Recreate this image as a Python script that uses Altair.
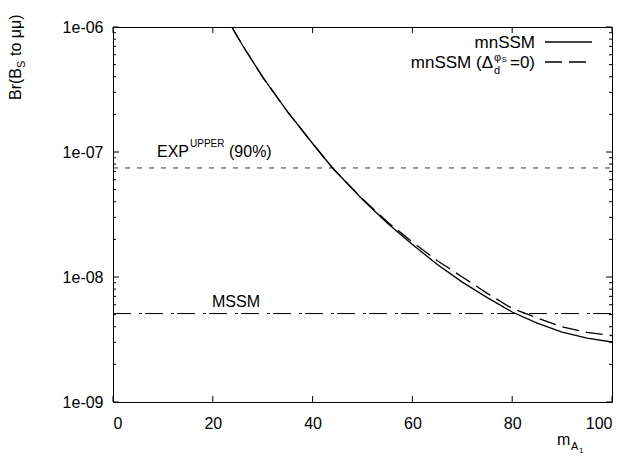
import altair as alt
import pandas as pd

# ---- data ----
m_solid = [23.8, 26, 30, 35, 40, 44, 50, 55, 60, 65, 70, 75, 80, 85, 90, 95, 100]
br_solid = [1.0e-6, 7.08e-7, 3.98e-7, 2.09e-7, 1.17e-7, 7.45e-8, 4.17e-8, 2.69e-8,
            1.82e-8, 1.26e-8, 9.1e-9, 6.84e-9, 5.25e-9, 4.27e-9, 3.63e-9, 3.24e-9, 3.02e-9]
m_dashed = [23.8, 26, 30, 35, 40, 44, 50, 55, 60, 65, 70, 75, 80, 85, 90, 95, 100]
br_dashed = [1.0e-6, 7.08e-7, 3.98e-7, 2.09e-7, 1.17e-7, 7.45e-8, 4.2e-8, 2.76e-8,
             1.9e-8, 1.35e-8, 1.0e-8, 7.4e-9, 5.6e-9, 4.7e-9, 4.0e-9, 3.6e-9, 3.4e-9]
exp_upper = [7.45e-8]
mssm = [5.1e-9]

x_ticks = [0, 20, 40, 60, 80, 100]
y_ticks = [1e-9, 1e-8, 1e-7, 1e-6]
y_minor = [k * d for d in [1e-9, 1e-8, 1e-7] for k in range(2, 10)]

W, H = 499, 375
FONT = "Liberation Sans"

xs = alt.Scale(domain=[0, 100], nice=False, zero=False)
ys = alt.Scale(type="log", domain=[1e-9, 1e-6], nice=False)

x_axis = alt.Axis(values=x_ticks, ticks=False, domain=False, grid=False, title=None,
                  labelFont=FONT, labelFontSize=16, labelColor="black", labelPadding=13)
y_axis = alt.Axis(values=y_ticks, ticks=False, domain=False, grid=False, title=None,
                  labelFont=FONT, labelFontSize=16, labelColor="black", labelPadding=10,
                  labelExpr="'1e-0' + format(-log(datum.value)/LN10, '.0f')")


def xenc(field="m"):
    return alt.X(f"{field}:Q", scale=xs, axis=x_axis)


def yenc(field="br"):
    return alt.Y(f"{field}:Q", scale=ys, axis=y_axis)


one = alt.InlineData(values=[{}])


def txt(text, x, y, size=16, angle=0, align="left"):
    return alt.Chart(one).mark_text(
        text=text, font=FONT, fontSize=size, angle=angle, align=align,
        baseline="alphabetic", color="black"
    ).encode(x=alt.value(x), y=alt.value(y))


df_s = pd.DataFrame({"m": m_solid, "br": br_solid})
df_d = pd.DataFrame({"m": m_dashed, "br": br_dashed})

solid = alt.Chart(df_s).mark_line(color="black", strokeWidth=1.3, clip=True).encode(
    x=xenc(), y=yenc()
)
dashed = alt.Chart(df_d).mark_line(color="black", strokeWidth=1.3, strokeDash=[17, 7], clip=True).encode(
    x=xenc(), y=yenc()
)

exp_rule = alt.Chart(pd.DataFrame({"br": exp_upper})).mark_rule(
    color="#333333", strokeWidth=1, strokeDash=[5, 7]
).encode(y=yenc(), x=alt.value(0), x2=alt.value(W))
mssm_rule = alt.Chart(pd.DataFrame({"br": mssm})).mark_rule(
    color="black", strokeWidth=1, strokeDash=[18, 8, 3, 3]
).encode(y=yenc(), x=alt.value(0), x2=alt.value(W))

# inward ticks (gnuplot style, mirrored)
dfx = pd.DataFrame({"m": x_ticks})
dfy = pd.DataFrame({"br": y_ticks})
dfym = pd.DataFrame({"br": y_minor})
tick_layers = [
    alt.Chart(dfx).mark_rule(color="black").encode(x=xenc(), y=alt.value(H), y2=alt.value(H - 6)),
    alt.Chart(dfx).mark_rule(color="black").encode(x=xenc(), y=alt.value(0), y2=alt.value(6)),
    alt.Chart(dfy).mark_rule(color="black").encode(y=yenc(), x=alt.value(0), x2=alt.value(6)),
    alt.Chart(dfy).mark_rule(color="black").encode(y=yenc(), x=alt.value(W), x2=alt.value(W - 6)),
    alt.Chart(dfym).mark_rule(color="black").encode(y=yenc(), x=alt.value(0), x2=alt.value(3)),
    alt.Chart(dfym).mark_rule(color="black").encode(y=yenc(), x=alt.value(W), x2=alt.value(W - 3)),
]

# legend samples
leg1 = alt.Chart(one).mark_rule(color="black", strokeWidth=1.3).encode(
    x=alt.value(432), x2=alt.value(479), y=alt.value(15))
leg2 = alt.Chart(one).mark_rule(color="black", strokeWidth=1.3, strokeDash=[17, 7]).encode(
    x=alt.value(432), x2=alt.value(479), y=alt.value(35))

texts = [
    txt("mnSSM", 422, 21, size=17, align="right"),
    txt("=0)", 422, 41, size=17, align="right"),
    txt("φ", 381, 33.5, size=11),
    txt("S", 388.5, 35, size=8),
    txt("d", 381, 46.5, size=11),
    txt("mnSSM (Δ", 380, 41, size=17, align="right"),
    txt("EXP", 44, 130),
    txt("UPPER", 77, 120, size=10),
    txt("(90%)", 116, 130),
    txt("MSSM", 99, 280),
    # y title (rotated)
    txt("Br(B", -92, 73, angle=270),
    txt("S", -88, 41, size=11, angle=270),
    txt("to μμ)", -92, 29, angle=270),
    # x title
    txt("m", 444, 418),
    txt("A", 458, 423, size=11),
    txt("1", 466, 426, size=8),
]

chart = alt.layer(
    exp_rule, mssm_rule, dashed, solid, *tick_layers, leg1, leg2, *texts
).properties(
    width=W, height=H,
    autosize=alt.AutoSizeParams(type="none"),
    padding={"left": 113, "top": 27, "right": 21, "bottom": 58},
    background="white",
).configure_view(stroke="black", strokeWidth=1)

chart.save("out.html", embed_options={"renderer": "svg", "actions": False})
